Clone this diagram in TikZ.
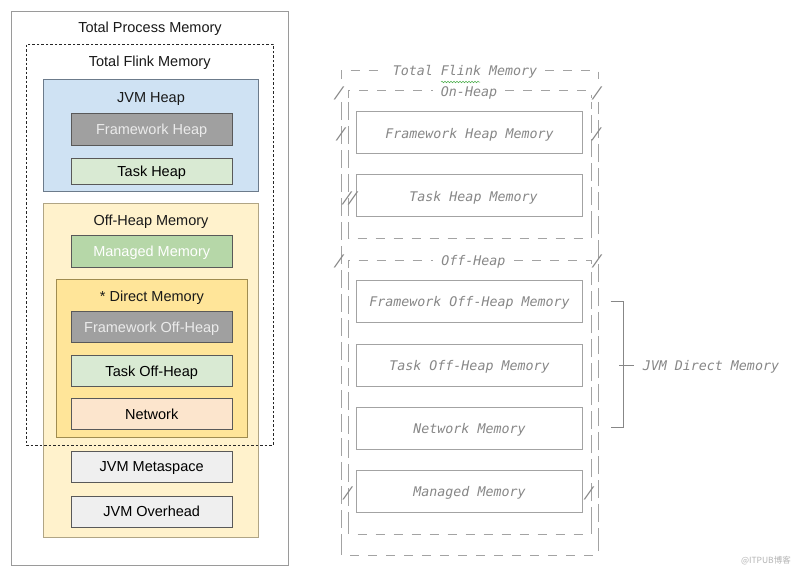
\documentclass[tikz,border=0pt]{standalone}
\usepackage{fontspec}
\setmainfont{Liberation Sans}
\newfontfamily\monofam{DejaVu Sans Mono}
\newfontfamily\cjkfam{Noto Sans CJK SC}
\usetikzlibrary{decorations.pathmorphing}
\definecolor{procline}{HTML}{9A9A9A}
\definecolor{heapfill}{HTML}{CFE2F3}
\definecolor{heapline}{HTML}{6C7B8B}
\definecolor{grayfill}{HTML}{A0A0A0}
\definecolor{taskfill}{HTML}{D9EAD3}
\definecolor{offfill}{HTML}{FFF2CC}
\definecolor{offline}{HTML}{B0A585}
\definecolor{mgdfill}{HTML}{B6D7A8}
\definecolor{dirfill}{HTML}{FFE599}
\definecolor{dirline}{HTML}{A08C50}
\definecolor{netfill}{HTML}{FCE5CD}
\definecolor{metafill}{HTML}{EFEFEF}
\definecolor{asciitext}{HTML}{878787}
\definecolor{asciiline}{HTML}{A3A3A3}
\definecolor{wmark}{HTML}{B4B4B4}
\begin{document}
\begin{tikzpicture}[x=1pt,y=-1pt,
  lfont/.style={font=\fontsize{14.5}{17}\selectfont, text height=10.5pt, text depth=0pt},
  ltitle/.style={lfont, text=black!90, inner sep=0pt},
  group/.style={draw=#1, line width=0.8pt, inner sep=0pt},
  inb/.style={draw=black!65, line width=0.8pt, inner sep=0pt, lfont,
    minimum width=161.3pt},
  mono/.style={font=\monofam\itshape\fontsize{13.3}{15}\selectfont, text=asciitext, inner sep=0pt,
    text height=10.5pt, text depth=0pt},
  slash/.style={mono, font=\monofam\itshape\fontsize{16}{18}\selectfont, xslant=0.2, text height=12pt},
  rbox/.style={draw=asciiline, line width=1pt, inner sep=0pt, mono,
    minimum width=225.6pt, minimum height=42pt},
  vd/.style={draw=asciiline, line width=1pt, dash pattern=on 18pt off 6pt},
  hd/.style={draw=asciiline, line width=1pt, dash pattern=on 9pt off 9pt},
  brk/.style={draw=asciitext, line width=1pt}
]
\useasboundingbox (0,0) rectangle (797,576);
\fill[white] (0,0) rectangle (797,576);

% ---------------- left diagram ----------------
\node[group=procline, minimum width=276.3pt, minimum height=554pt] (proc) at (149.9,288.7) {};
\node[ltitle] (procT) at (150,27.3) {Total Process Memory};

\node[group=heapline, fill=heapfill, minimum width=214.6pt, minimum height=112.4pt] (jvmheap) at (151,135.5) {};
\node[ltitle] (jvmheapT) at (151,97.3) {JVM Heap};
\node[inb, fill=grayfill, text=white!92!black, minimum height=32pt] (fwheap) at (151.7,129) {Framework Heap};
\node[inb, fill=taskfill, minimum height=25.3pt] (taskheap) at (151.7,171.3) {Task Heap};

\node[group=offline, fill=offfill, minimum width=214.6pt, minimum height=334.4pt] (offheap) at (151,370.5) {};
\node[ltitle] (offheapT) at (151,220.7) {Off-Heap Memory};
\node[inb, fill=mgdfill, text=white, minimum height=31.6pt] (managed) at (151.7,251.5) {Managed Memory};

\node[group=dirline, fill=dirfill, minimum width=190.3pt, minimum height=158pt] (direct) at (151.9,358.3) {};
\node[ltitle] (directT) at (151.9,296.7) {* Direct Memory};
\node[inb, fill=grayfill, text=white!92!black, minimum height=30.6pt] (fwoff) at (151.7,327) {Framework Off-Heap};
\node[inb, fill=taskfill, minimum height=31pt] (taskoff) at (151.7,371.2) {Task Off-Heap};
\node[inb, fill=netfill, minimum height=31pt] (network) at (151.7,413.8) {Network};

\node[inb, fill=metafill, minimum height=31.3pt] (meta) at (151.7,466.7) {JVM Metaspace};
\node[inb, fill=metafill, minimum height=31.3pt] (overhead) at (151.7,511.7) {JVM Overhead};

\node[draw=black!85, line width=0.7pt, dash pattern=on 2.5pt off 2pt, inner sep=0pt,
  minimum width=247.3pt, minimum height=400.7pt] (flink) at (149.7,244.7) {};
\node[ltitle] (flinkT) at (149.7,61.7) {Total Flink Memory};

% ---------------- right diagram (ASCII style) ----------------
\node[mono] (rflinkT) at (465,70.7) {Total Flink Memory};
\draw[green!55!black!70, line width=0.5pt, decorate,
  decoration={snake, amplitude=0.8pt, segment length=3pt}] (441,82) -- (480,82);
\draw[hd] (341,79) -- (341,70.5) -- (385,70.5);
\draw[hd] (545,70.5) -- (598,70.5) -- (598,79);
\draw[vd] (341,102) -- (341,546);
\draw[hd] (341,546) -- (341,555) -- (598,555) -- (598,546);
\draw[vd] (598,546) -- (598,102);

% On-Heap group
\node[mono] (onT) at (469,91.7) {On-Heap};
\draw[hd] (348.5,98) -- (348.5,90.5) -- (433,90.5);
\draw[hd] (505,90.5) -- (591,90.5) -- (591,98);
\draw[vd] (348.5,102) -- (348.5,229);
\draw[hd] (348.5,229) -- (348.5,238) -- (591,238) -- (591,229);
\draw[vd] (591,229) -- (591,102);
\node[rbox] (fhm) at (469.5,132.8) {Framework Heap Memory};
\node[rbox] (thm) at (469.5,195.9) {\hspace{8pt}Task Heap Memory};

% Off-Heap group
\node[mono] (offT) at (473.3,260.7) {Off-Heap};
\draw[hd] (348.5,268) -- (348.5,260) -- (433,260);
\draw[hd] (514,260) -- (591,260) -- (591,268);
\draw[vd] (348.5,272) -- (348.5,525);
\draw[hd] (348.5,525) -- (348.5,534) -- (591,534) -- (591,525);
\draw[vd] (591,525) -- (591,272);
\node[rbox] (fohm) at (469.5,301.7) {Framework Off-Heap Memory};
\node[rbox] (tohm) at (469.5,365) {Task Off-Heap Memory\hspace{8pt}};
\node[rbox] (nm) at (469.5,428.3) {Network Memory\hspace{8pt}};
\node[rbox] (mm) at (469.5,491.7) {Managed Memory\hspace{8pt}};

% stray slashes of the ASCII art
\node[slash] (sl1) at (340,92) {/};
\node[slash] (sl2) at (598,92) {/};
\node[slash] (sl3) at (342,133) {/};
\node[slash] (sl4) at (597.5,133) {/};
\node[slash] (sl5) at (348,197) {/};
\node[slash] (sl6) at (354,197) {/};
\node[slash] (sl7) at (340,260.5) {/};
\node[slash] (sl8) at (598,260.5) {/};
\node[slash] (sl9) at (348.7,492) {/};
\node[slash] (sl10) at (590,492) {/};

% JVM Direct Memory bracket
\coordinate (bt) at (610.7,301.7);
\coordinate (bb) at (610.7,427.7);
\coordinate (bm) at (619.3,365);
\node[mono, anchor=west] (jdm) at (642.7,365) {JVM Direct Memory};
\draw[brk] (bt) -- (623.3,301.7) -- (623.3,427.7) -- (bb);
\draw[brk] (bm) -- (jdm.west -| 634.3,0);

% watermark
\node[font=\cjkfam\fontsize{8.5}{9}\selectfont, text=wmark, anchor=east, inner sep=0pt] (wm) at (791,561) {@ITPUB博客};
\end{tikzpicture}
\end{document}
